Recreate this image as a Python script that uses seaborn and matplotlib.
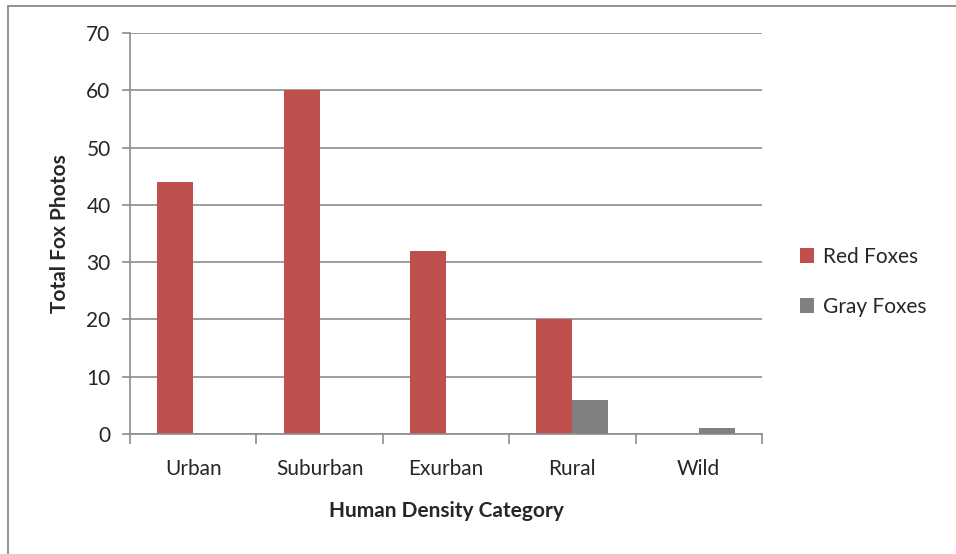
import pandas as pd
import numpy as np
import seaborn as sns
import matplotlib.pyplot as plt
from matplotlib.patches import Rectangle

categories = ['Urban', 'Suburban', 'Exurban', 'Rural', 'Wild']
red_foxes = [44, 60, 32, 20, 0]
gray_foxes = [0, 0, 0, 6, 1]
series = ['Red Foxes', 'Gray Foxes']
colors = ['#C0504D', '#808080']

df = pd.DataFrame({
    'category': categories * 2,
    'species': [series[0]] * len(categories) + [series[1]] * len(categories),
    'photos': red_foxes + gray_foxes,
})

sns.set_style('white')
plt.rcParams['font.family'] = ['Lato', 'DejaVu Sans']

fig = plt.figure(figsize=(9.56, 5.54), dpi=100)
ax = fig.add_axes([0.136, 0.2166, 0.661, 0.7234])

sns.barplot(data=df, x='category', y='photos', hue='species', palette=colors,
            width=0.57, saturation=1, linewidth=0, edgecolor='none', ax=ax, legend=True)

ax.set_ylim(0, 70)
ax.set_yticks(range(0, 71, 10))
ax.set_xlim(-0.5, len(categories) - 0.5)
ax.yaxis.grid(True, color='#8c8c8c', linewidth=1.2)
ax.set_axisbelow(True)
for s in ['top', 'right']:
    ax.spines[s].set_visible(False)
for s in ['left', 'bottom']:
    ax.spines[s].set_color('#8c8c8c')
    ax.spines[s].set_linewidth(1.2)

# category ticks at the boundaries, labels at the centres
ax.set_xticks(np.arange(-0.5, len(categories), 1.0))
ax.set_xticklabels([])
ax.set_xticks(range(len(categories)), minor=True)
ax.set_xticklabels(categories, minor=True, fontsize=15)
ax.tick_params(axis='x', which='major', length=7, width=1.2, color='#8c8c8c', direction='out', bottom=True)
ax.tick_params(axis='x', which='minor', length=0, pad=18)
ax.tick_params(axis='y', length=6, width=1.2, color='#8c8c8c', direction='out', left=True, labelsize=15, pad=8)

ax.set_xlabel('Human Density Category', fontsize=15, fontweight='bold', labelpad=16)
ax.set_ylabel('Total Fox Photos', fontsize=15, fontweight='bold', labelpad=12)

ax.legend(title=None, frameon=False, fontsize=15, loc='center left', bbox_to_anchor=(1.03, 0.38),
          handlelength=0.7, handleheight=0.7, handletextpad=0.4, labelspacing=1.45)

fig.patches.append(Rectangle((8 / 956, -0.1), 1.2, 0.1 + (554 - 6) / 554, transform=fig.transFigure,
                             fill=False, edgecolor='#7f7f7f', linewidth=1.2))

fig.savefig('out.png', dpi=100)
